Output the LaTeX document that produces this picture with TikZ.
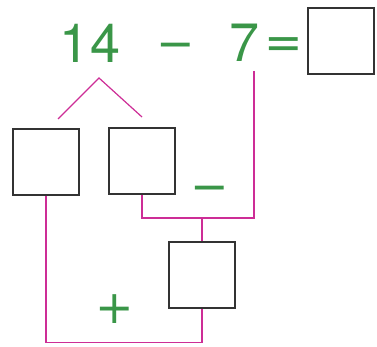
\documentclass[tikz,border=0pt]{standalone}
\usepackage{fontspec}
\setmainfont{TeX Gyre Heros}
\newfontfamily\signfont{DejaVu Sans}
\usetikzlibrary{positioning}
\definecolor{numgreen}{RGB}{58,150,72}
\definecolor{linkpink}{RGB}{205,45,150}
\tikzset{box/.style={draw=black!80,line width=1.2pt,minimum size=66pt,inner sep=0pt},
	num/.style={text=numgreen,font=\fontsize{54}{54}\selectfont,inner sep=0pt},
	sign/.style={text=numgreen,font=\signfont\fontsize{46}{46}\selectfont,inner sep=0pt},
	link/.style={linkpink,line width=1.2pt}}

\begin{document}
\begin{tikzpicture}[x=1pt,y=-1pt]
		\useasboundingbox (0,0) rectangle (377,347);
		% top row
		\node[num]  (n14) at (90,43)  {14};
		\node[sign] (mi)  at (176,51) {−};
		\node[num]  (n7)  at (245,43) {7};
		\node[sign] (eq)  at (284,48) {=};
		\node[box]  (res) at (341,41) {};
		% boxes
		\node[box] (a) at (46,162)  {};
		\node[box] (b) at (142,161) {};
		\node[box] (c) at (202,275) {};
		\node[sign] (mi2)  at (210,194) {−};
		\node[sign] (plus) at (115,309) {+};
		% connectors
		\coordinate (top) at (99,78);
		\coordinate (t7)  at (254,71);
		\coordinate (j)   at (202,218);
		\draw[link] (58,119) -- (top) -- (142,117);
		\draw[link] (t7) -- (t7 |- j) -- (b.south |- j) -- (b.south);
		\draw[link] (j) -- (c.north);
		\draw[link] (a.south) -- ++(0,147) -| (c.south);
	\end{tikzpicture}
\end{document}
